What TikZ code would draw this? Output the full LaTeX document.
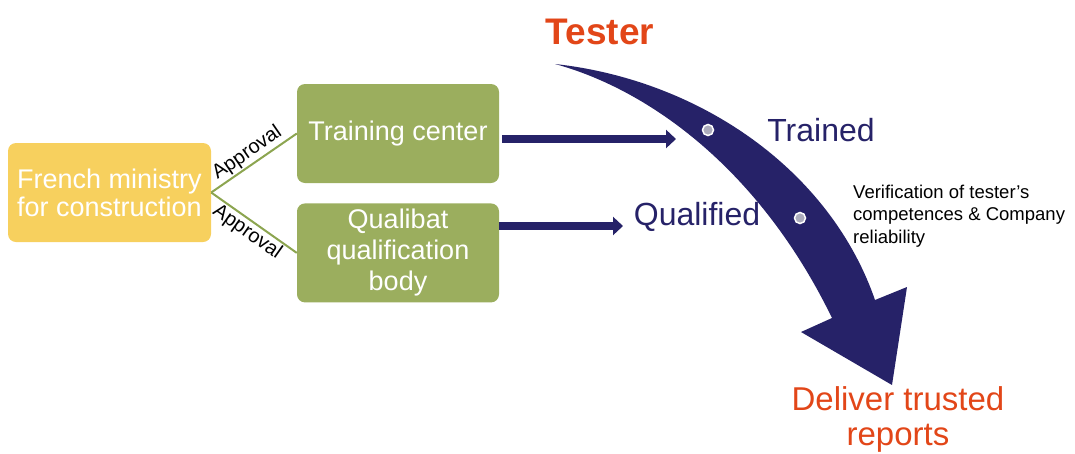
\documentclass[tikz,border=0pt]{standalone}
\usepackage{fontspec}
\setmainfont{Liberation Sans}
\usepackage{xcolor}
\usetikzlibrary{arrows.meta, positioning}
\definecolor{ministryyellow}{RGB}{247,208,94}
\definecolor{qualigreen}{RGB}{155,174,94}
\definecolor{linegreen}{RGB}{140,165,80}
\definecolor{testernavy}{RGB}{38,34,104}
\definecolor{testerred}{RGB}{226,70,24}
\definecolor{dotgray}{RGB}{172,172,188}
\tikzset{
    yellowbox/.style={rectangle, rounded corners=8pt, fill=ministryyellow, text=white, minimum width=203pt, minimum height=99pt, align=center, font=\fontsize{27}{28}\selectfont},
    greenbox/.style={rectangle, rounded corners=8pt, fill=qualigreen, text=white, minimum width=202pt, minimum height=99pt, align=center, font=\fontsize{27}{31}\selectfont},
    approval/.style={draw=linegreen, line width=2pt},
    approvaltext/.style={sloped, font=\fontsize{20}{22}\selectfont, inner sep=1.5pt},
    bararrow/.style={draw=testernavy, line width=8.5pt, -{Triangle[length=10pt, width=18pt]}},
    steplabel/.style={text=testernavy, font=\fontsize{32}{34}\selectfont},
    redlabel/.style={text=testerred, align=center},
    stagedot/.style={circle, fill=dotgray, draw=white, line width=1.5pt, minimum size=11pt, inner sep=0pt}
}
\begin{document}
\begin{tikzpicture}[x=1pt, y=-1pt]
    \useasboundingbox (0,0) rectangle (1075,453);

    % Bodies
    \node[yellowbox] (ministry) at (109.5,192.5) {French ministry\\for construction};
    \node[greenbox] (training) at (398,133.5) {Training center};
    \node[greenbox, below=20pt of training] (qualibat) {Qualibat\\qualification\\body};

    % Approvals
    \draw[approval] (ministry.east) -- node[approvaltext, above] {Approval} (training.west);
    \draw[approval] (ministry.east) -- node[approvaltext, below] {Approval} (qualibat.west);

    % Tester path
    \fill[testernavy] (555,64) .. controls (700,80) and (830,170) .. (875,300)
        -- (907,287) -- (892,385) -- (801,332) -- (832,318)
        .. controls (760,170) and (650,90) .. (555,64) -- cycle;
    \node[stagedot] (dottrained) at (708,130) {};
    \node[stagedot] (dotqualified) at (800,218) {};

    % Labels
    \node[redlabel, font=\bfseries\fontsize{37}{39}\selectfont] (tester) at (600,32) {Tester};
    \node[steplabel] (trained) at (821,130) {Trained};
    \node[steplabel] (qualified) at (697,217) {Qualified};
    \node[anchor=west, align=left, inner sep=0pt, font=\fontsize{18.5}{22.5}\selectfont] (verif) at (853,216)
        {Verification of tester’s\\competences \& Company\\reliability};
    \node[redlabel, font=\fontsize{33}{35}\selectfont] (deliver) at (898,419) {Deliver trusted\\reports};

    % Inputs
    \coordinate (trainin) at (676,139);
    \coordinate (qualin) at (623,226);
    \draw[bararrow] ([xshift=3pt]training.east |- trainin) -- (trainin);
    \draw[bararrow] (qualibat.east |- qualin) -- (qualin);
\end{tikzpicture}
\end{document}
